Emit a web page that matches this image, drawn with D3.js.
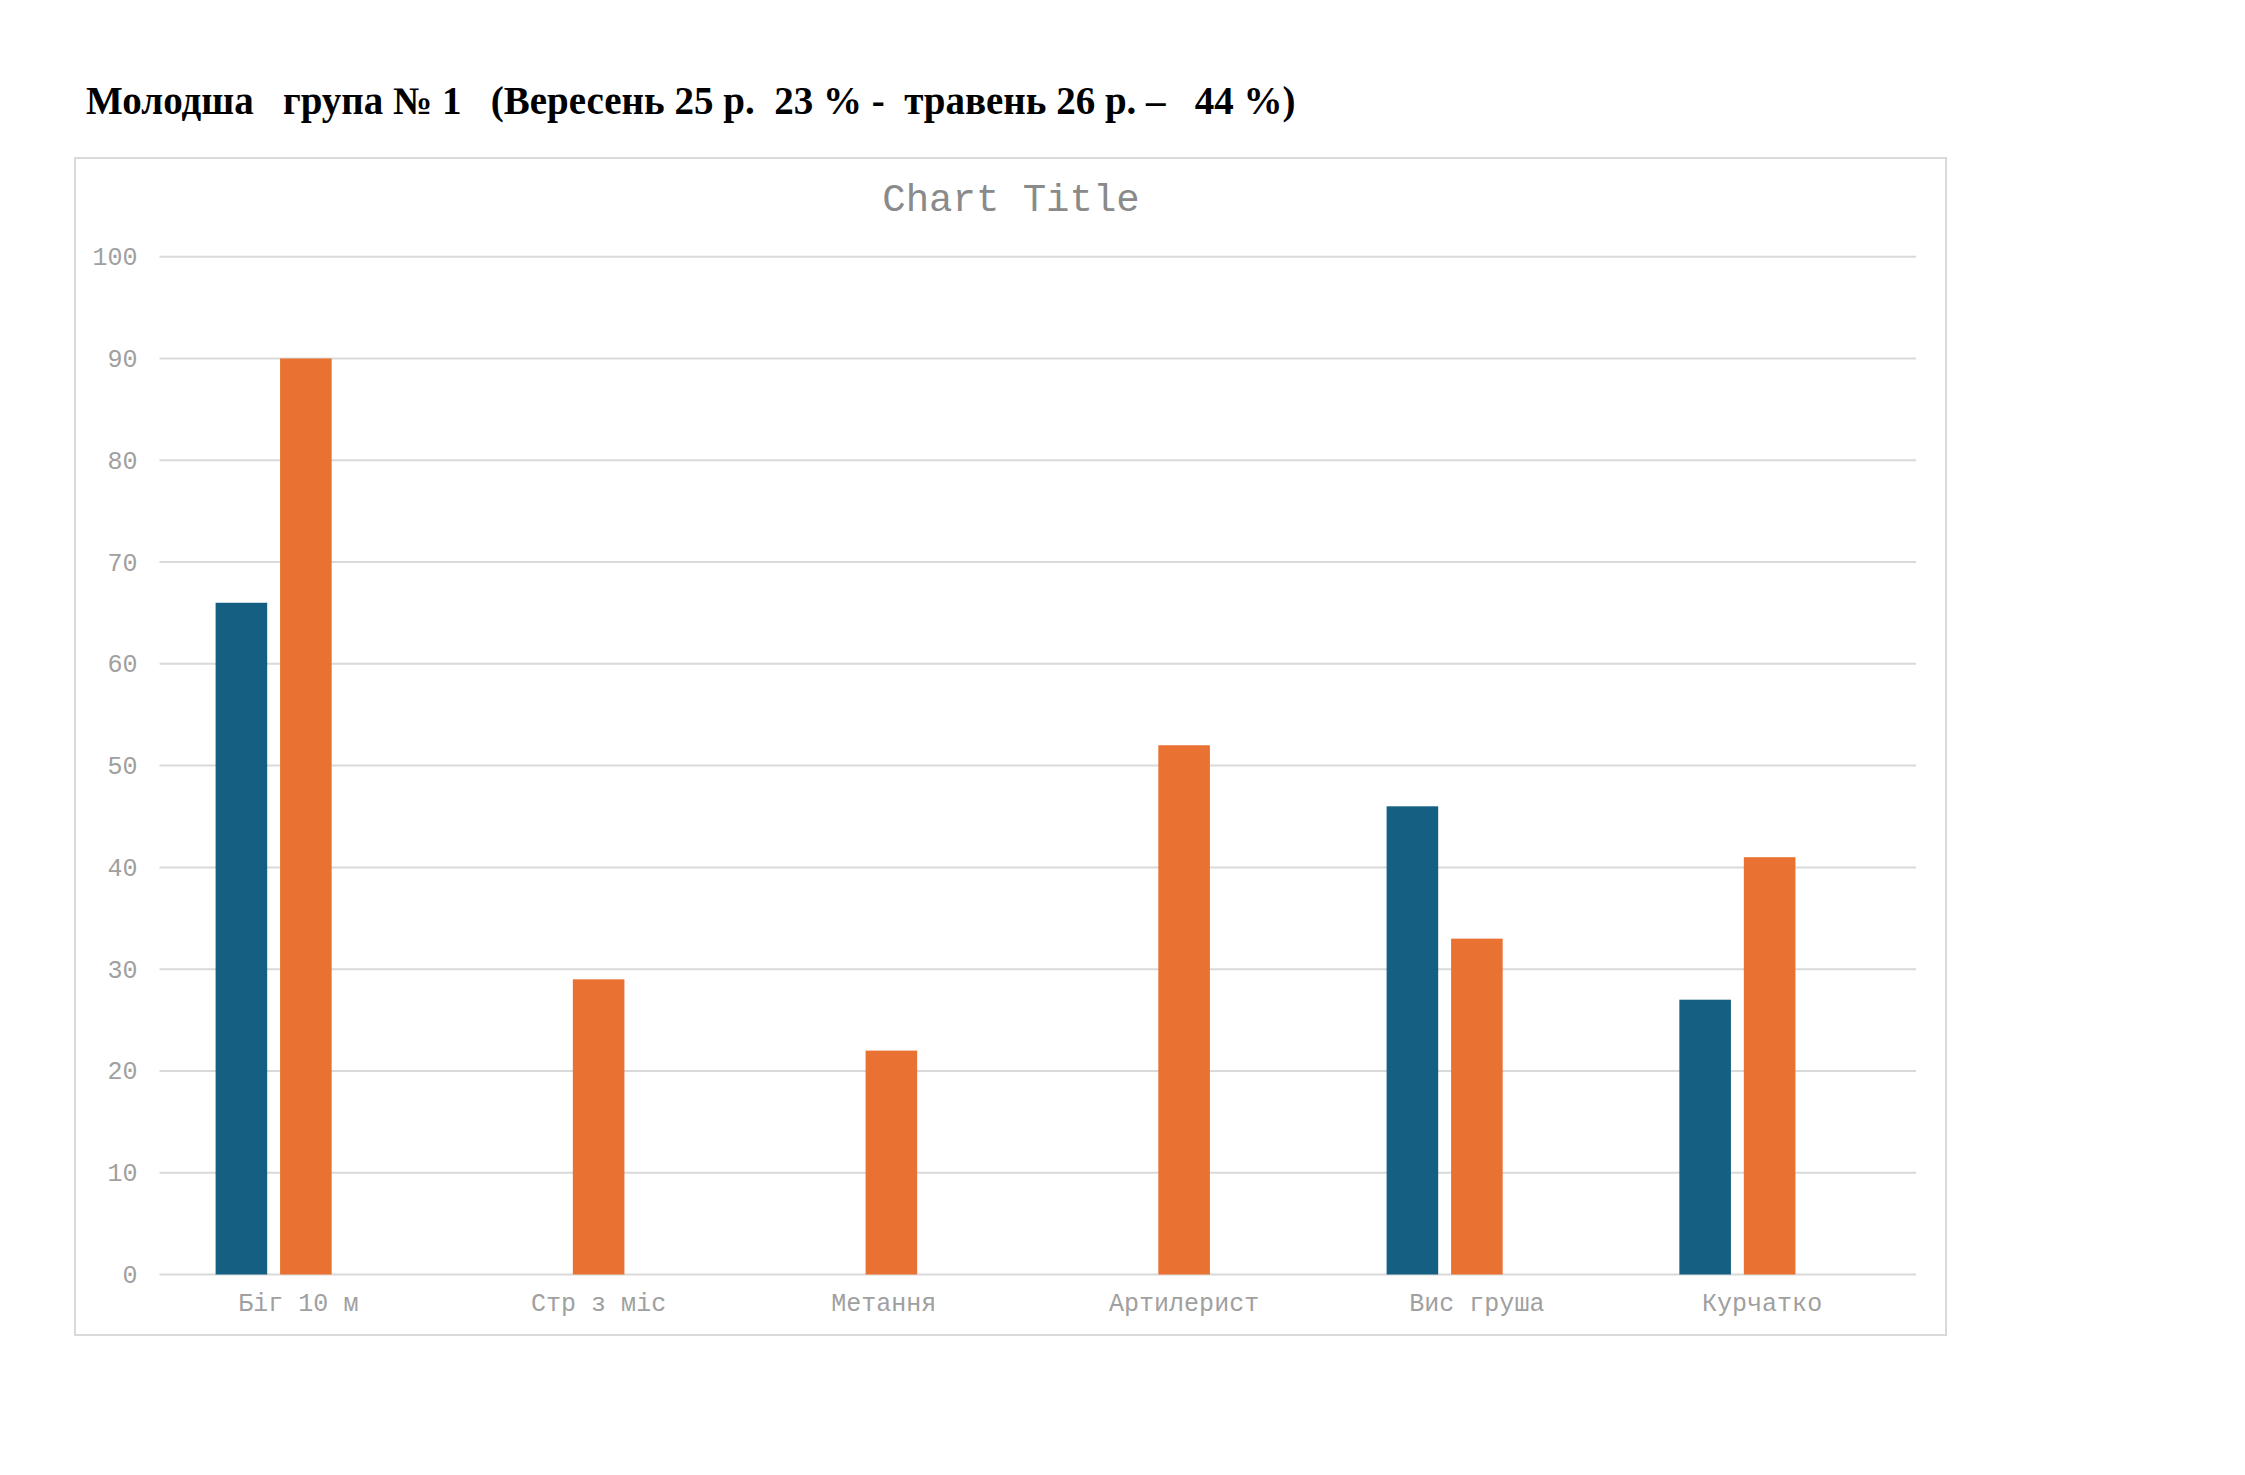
<!DOCTYPE html>
<html>
<head>
<meta charset="utf-8">
<script src="https://cdn.jsdelivr.net/npm/d3@7"></script>
<style>
  body { margin: 0; background: #fff; }
  text { white-space: pre; }
</style>
</head>
<body>
<script>
// values
const categories = ['Біг 10 м ', 'Стр з міс', 'Метання ', 'Артилерист', 'Вис груша', 'Курчатко '];
const seriesKeys = ['s1', 's2', 's3'];
const september = [66, 0, 0, 0, 46, 27];
const may = [90, 29, 22, 52, 33, 41];
const empty = [null, null, null, null, null, null];
const yTicks = [0, 10, 20, 30, 40, 50, 60, 70, 80, 90, 100];
const colors = {s1: '#156082', s2: '#E97132', s3: '#0F9ED5'};

const W = 2245, H = 1475;
const box = {left: 75, top: 158, right: 1946, bottom: 1335};
const plot = {left: 159.5, right: 1916, top: 256.7, bottom: 1274.5};

const svg = d3.select('body').append('svg')
  .attr('width', W)
  .attr('height', H);

// page heading above the chart
svg.append('text')
  .attr('x', 86)
  .attr('y', 114)
  .attr('xml:space', 'preserve')
  .style('font-family', '"Liberation Serif", "Times New Roman", serif')
  .style('font-weight', 'bold')
  .style('font-size', '39px')
  .attr('fill', '#000')
  .text('Молодша   група № 1   (Вересень 25 р.  23 % -  травень 26 р. –   44 %)');

// chart area
svg.append('rect')
  .attr('x', box.left)
  .attr('y', box.top)
  .attr('width', box.right - box.left)
  .attr('height', box.bottom - box.top)
  .attr('fill', '#fff')
  .attr('stroke', '#d9d9d9')
  .attr('stroke-width', 2);

svg.append('text')
  .attr('x', 1011)
  .attr('y', 211)
  .attr('text-anchor', 'middle')
  .style('font-family', '"Liberation Mono", "Courier New", monospace')
  .style('font-size', '39px')
  .attr('fill', '#8a8a8a')
  .text('Chart Title');

const x0 = d3.scaleBand()
  .domain(categories)
  .range([plot.left, plot.right]);

const x1 = d3.scaleBand()
  .domain(seriesKeys)
  .range([0, x0.bandwidth()])
  .paddingInner(0.2)
  .paddingOuter(0.87);

const y = d3.scaleLinear()
  .domain([0, 100])
  .range([plot.bottom, plot.top]);

// gridlines
svg.append('g')
  .selectAll('line')
  .data(yTicks)
  .join('line')
  .attr('x1', plot.left)
  .attr('x2', plot.right)
  .attr('y1', d => y(d))
  .attr('y2', d => y(d))
  .attr('stroke', '#d9d9d9')
  .attr('stroke-width', 2);

// y axis labels
const yAxis = svg.append('g')
  .attr('transform', `translate(${plot.left - 22},0)`)
  .call(d3.axisLeft(y).tickValues(yTicks).tickSize(0).tickPadding(0));
yAxis.select('.domain').remove();
yAxis.selectAll('text')
  .style('font-family', '"Liberation Mono", "Courier New", monospace')
  .style('font-size', '25px')
  .attr('fill', '#a0a0a0');

// bars
const rows = categories.map((c, i) => ({
  cat: c,
  vals: [
    {key: 's1', v: september[i]},
    {key: 's2', v: may[i]},
    {key: 's3', v: empty[i]}
  ]
}));

svg.append('g')
  .selectAll('g')
  .data(rows)
  .join('g')
  .attr('transform', d => `translate(${x0(d.cat)},0)`)
  .selectAll('rect')
  .data(d => d.vals.filter(b => b.v))
  .join('rect')
  .attr('x', d => x1(d.key))
  .attr('width', x1.bandwidth())
  .attr('y', d => y(d.v))
  .attr('height', d => y(0) - y(d.v))
  .attr('fill', d => colors[d.key]);

// category axis
const xAxis = svg.append('g')
  .attr('transform', `translate(0,${plot.bottom})`)
  .call(d3.axisBottom(x0).tickSize(0).tickPadding(19));
xAxis.select('.domain').remove();
xAxis.selectAll('text')
  .attr('xml:space', 'preserve')
  .style('font-family', '"Liberation Mono", "Courier New", monospace')
  .style('font-size', '25px')
  .attr('fill', '#a0a0a0');
</script>
</body>
</html>
